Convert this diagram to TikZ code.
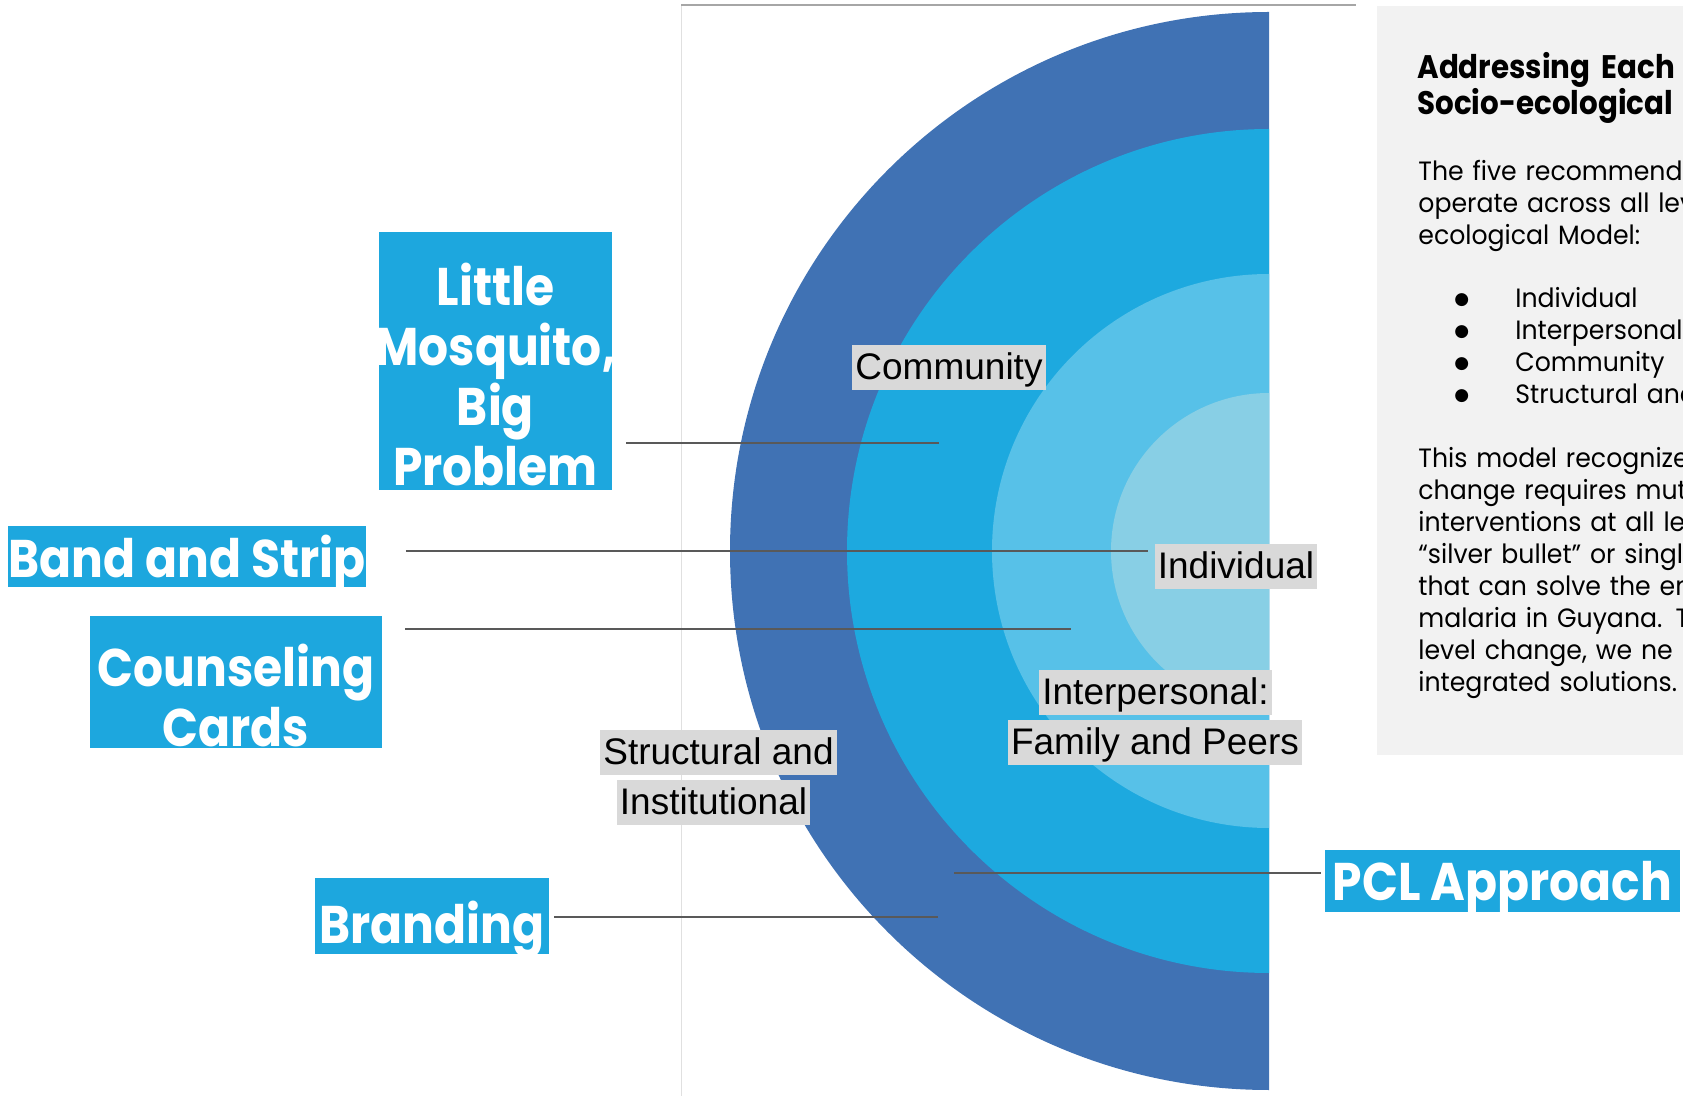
\documentclass[tikz,border=0pt]{standalone}
\usepackage{fontspec}
\setmainfont{Liberation Sans}
\newfontfamily\gothic[FakeStretch=0.95]{Poppins}
\newfontfamily\gothichead[FakeStretch=0.9]{Poppins}
\newfontfamily\tagfont[FakeStretch=0.89]{Poppins}
\newfontfamily\dotfont{DejaVu Sans}
\usetikzlibrary{positioning, calc}
\definecolor{ringdark}{HTML}{4072B4}
\definecolor{ringmid}{HTML}{1DA9DF}
\definecolor{ringlight}{HTML}{57C1E8}
\definecolor{ringcore}{HTML}{88CFE5}
\definecolor{tagblue}{HTML}{1DA7DE}
\definecolor{levelgray}{HTML}{D9D9D9}
\definecolor{leadergray}{HTML}{595959}
\definecolor{panelgray}{HTML}{F2F2F2}
\newcommand{\leveldot}{\makebox[30.5pt][l]{\raisebox{1.5pt}{\dotfont\fontsize{8.5}{16}\selectfont ●}}}

\begin{document}
\begin{tikzpicture}[x=0.5pt, y=-0.5pt,
    tag/.style={fill=tagblue, text=white, inner xsep=0pt, inner ysep=0pt, anchor=north,
                font={\tagfont\bfseries\fontsize{26.5}{30}\selectfont}},
    level/.style={fill=levelgray, text=black, inner xsep=1.5pt, inner ysep=0pt, anchor=north,
                  text height=17pt, text depth=5.5pt, font={\fontsize{18.5}{22}\selectfont}},
    paneltext/.style={anchor=north west, inner sep=0pt, text width=200pt, align=left,
                      text height=10pt, font={\gothic\fontsize{13.25}{16}\selectfont}},
    leader/.style={draw=leadergray, line width=1pt}]

  \useasboundingbox (0,0) rectangle (1683,1096);

  % frame of the model picture
  \draw[black!12, line width=0.5pt] (681,5) -- (681,1096);
  \draw[black!35, line width=1pt] (681,5) -- (1356,5);

  % the four levels
  \fill[ringdark]  (1269,551) ++(0,539) arc[start angle=90, end angle=270, radius=539] -- cycle;
  \fill[ringmid]   (1269,551) ++(0,422) arc[start angle=90, end angle=270, radius=422] -- cycle;
  \fill[ringlight] (1269,551) ++(0,277) arc[start angle=90, end angle=270, radius=277] -- cycle;
  \fill[ringcore]  (1269,551) ++(0,158) arc[start angle=90, end angle=270, radius=158] -- cycle;

  \node[level] (community) at (949,345) {Community};
  \node[level] (individual) at (1236,544) {Individual};
  \node[level] (interpA) at (1155.5,670) {Interpersonal:};
  \node[level] (interpB) at (1155,720) {Family and Peers};
  \node[level] (structA) at (718.5,730) {Structural and};
  \node[level] (structB) at (713.5,780) {Institutional};

  % side panel
  \fill[panelgray] (1377,6) rectangle (1683,755);
  \begin{scope}
    \clip (1377,6) rectangle (1683,755);
    \node[paneltext, font={\gothichead\bfseries\fontsize{16.3}{18}\selectfont}] (heading)
          at (1417,58) {Addressing Each\\Socio-ecological};
    \node[paneltext] (intro) at (1418,160)
          {The five recommend\\operate across all lev\\ecological Model:};
    \node[paneltext] (levels) at (1454,287)
          {\leveldot Individual\\
           \leveldot Interpersonal\\
           \leveldot Community\\
           \leveldot Structural and};
    \node[paneltext] (summary) at (1418,447)
          {This model recognize\\change requires mut\\interventions at all le\\
           “silver bullet” or singl\\that can solve the en\\malaria in Guyana. T\\
           level change, we ne\\integrated solutions.};
  \end{scope}

  % tools
  \node[tag, text width=130pt, inner xsep=-6.75pt, align=center, text height=36.5pt, text depth=92.5pt] (mosquito)
        at (495.5,232) {Little\\Mosquito,\\Big\\Problem};
  \node[tag, minimum width=178pt, text height=25.5pt, text depth=5pt] (band)
        at (187,526) {Band and Strip};
  \node[tag, text width=160pt, inner xsep=-7pt, align=center, text height=35.25pt, text depth=30.75pt] (cards)
        at (236,616) {Counseling\\Cards};
  \node[tag, minimum width=117pt, text height=32.5pt, text depth=5.5pt] (branding)
        at (432,878) {Branding};
  \node[tag, minimum width=177.5pt, text height=25pt, text depth=6pt] (pcl)
        at (1502.5,850) {PCL Approach};

  \coordinate (mosquito-tip) at (939,443);
  \coordinate (band-tip) at (1148,551);
  \coordinate (cards-tip) at (1071,629);
  \coordinate (branding-tip) at (938,917);
  \coordinate (pcl-tip) at (954,873);

  \draw[leader] ($(mosquito.east |- mosquito-tip)+(14,0)$) -- (mosquito-tip);
  \draw[leader] ($(band.east |- band-tip)+(40,0)$) -- (band-tip);
  \draw[leader] ($(cards.east |- cards-tip)+(23,0)$) -- (cards-tip);
  \draw[leader] ($(branding.east |- branding-tip)+(5,0)$) -- (branding-tip);
  \draw[leader] ($(pcl.west |- pcl-tip)+(-4,0)$) -- (pcl-tip);
\end{tikzpicture}
\end{document}
